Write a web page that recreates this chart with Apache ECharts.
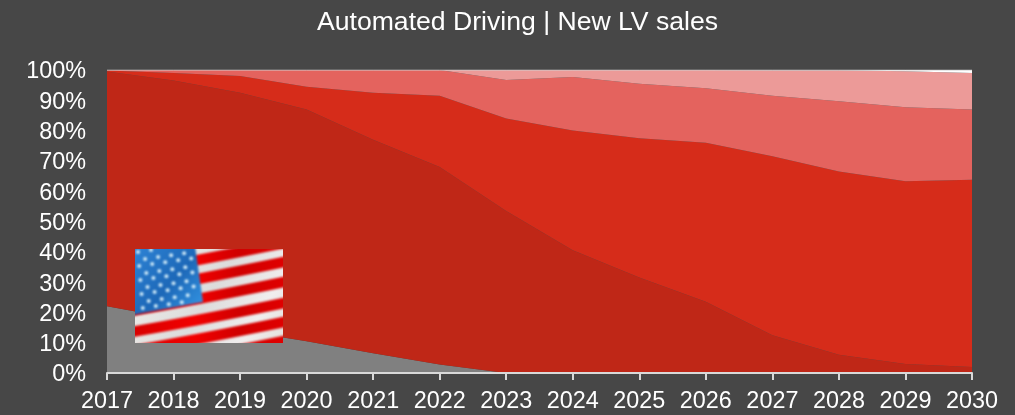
<!DOCTYPE html>
<html>
<head>
<meta charset="utf-8">
<script src="https://cdn.jsdelivr.net/npm/echarts@6/dist/echarts.min.js"></script>
<style>html,body{margin:0;padding:0;background:#474747}#c{width:1015px;height:415px}</style>
</head>
<body>
<div id="c"></div>
<script>
const years = ['2017','2018','2019','2020','2021','2022','2023','2024','2025','2026','2027','2028','2029','2030'];
const grayBand     = [22,18,14,10.5,6.5,2.8,0,0,0,0,0,0,0,0];
const darkRedBand  = [77.5,78.5,78.5,76.5,70.5,65.2,53.5,40.5,31.5,23.5,12.5,6,3,2];
const redBand      = [0.3,2.5,5.5,7.5,15.5,23.5,30.5,39.5,46,52.5,59,60.5,60.3,61.8];
const lightRedBand = [0.2,1,2,5.5,7.5,8.5,12.7,17.7,18,18,20,23.2,24.4,23.2];
const paleRedBand  = [0,0,0,0,0,0,3.3,2.3,4.5,6,8.4,10.2,11.9,12];
const whiteBand    = [0,0,0,0,0,0,0,0,0,0,0.1,0.1,0.4,1];

function flagCanvas() {
  const W = 148, H = 94;
  const cv = document.createElement('canvas');
  cv.width = W; cv.height = H;
  const g = cv.getContext('2d');
  const bg = g.createLinearGradient(0, 0, W, H);
  bg.addColorStop(0, '#f2efea'); bg.addColorStop(0.5, '#dcdcdc');
  bg.addColorStop(0.8, '#f0eeee'); bg.addColorStop(1, '#e4e0dc');
  g.fillStyle = bg; g.fillRect(0, 0, W, H);
  g.filter = 'blur(1.1px)';
  [-11, 9, 28, 48, 69, 88, 107].forEach((y0) => {
    const k = 0.19, x0 = 70;
    const rg = g.createLinearGradient(0, 0, W, 0);
    rg.addColorStop(0, '#d80000'); rg.addColorStop(0.4, '#f20000');
    rg.addColorStop(0.7, '#d00000'); rg.addColorStop(1, '#e00000');
    g.strokeStyle = rg; g.lineWidth = 10.5;
    g.beginPath(); g.moveTo(-5, y0 + 75 * k);
    g.bezierCurveTo(40, y0 + 30 * k + 1, 90, y0 - 10 * k - 1, W + 5, y0 - (W + 5 - x0) * k);
    g.stroke();
  });
  g.filter = 'blur(0.9px)';
  const blue = g.createLinearGradient(0, 0, 68, 60);
  blue.addColorStop(0, '#2d82d4'); blue.addColorStop(0.55, '#1d68b8'); blue.addColorStop(1, '#3496e4');
  g.fillStyle = blue;
  g.beginPath(); g.moveTo(-3, -3); g.lineTo(60, -3); g.lineTo(68, 53); g.lineTo(-3, 66); g.closePath(); g.fill();
  g.fillStyle = '#cfeaf8';
  for (let r = 0; r < 10; r++) {
    for (let c = 0; c < 7; c++) {
      const x = 3 + c * 13 + (r % 2) * 6.5 + r * 0.6;
      const y = 3 + r * 7 - c * 1.9;
      if (x > 58 + y * 0.14 || y > 62 - x * 0.18 || y < 0) continue;
      g.beginPath(); g.arc(x, y, 2, 0, 6.3); g.fill();
    }
  }
  return cv;
}

const band = (name, data, color, extra) => Object.assign({
  name, type: 'line', stack: 'share', data, symbol: 'none', smooth: false,
  lineStyle: { width: 0 }, areaStyle: { color: color, opacity: 1 }, itemStyle: { color },
  silent: true
}, extra || {});

const chart = echarts.init(document.getElementById('c'));
chart.setOption({
  animation: false,
  backgroundColor: '#474747',
  title: {
    text: 'Automated Driving | New LV sales', left: 312, top: 4,
    textStyle: { color: '#ffffff', fontFamily: 'Liberation Sans', fontSize: 26.6, fontWeight: 'normal' }
  },
  grid: { left: 107, right: 43, top: 70, bottom: 42 },
  xAxis: {
    type: 'category', data: years, boundaryGap: false,
    axisLine: { lineStyle: { color: '#d9d9d9', width: 2 } },
    axisTick: { show: true, length: 7, inside: false, alignWithLabel: true, lineStyle: { color: '#d9d9d9', width: 2 } },
    axisLabel: { color: '#ffffff', fontFamily: 'Liberation Sans', fontSize: 23.4, margin: 17, interval: 0, showMinLabel: true, showMaxLabel: true, hideOverlap: false },
    z: 5
  },
  yAxis: {
    type: 'value', min: 0, max: 100, interval: 10,
    axisLine: { show: false },
    axisTick: { show: false },
    splitLine: { show: false },
    axisLabel: { color: '#ffffff', fontFamily: 'Liberation Sans', fontSize: 23.4, margin: 21, verticalAlign: 'top', lineHeight: 4, formatter: '{value}%' }
  },
  series: [
    band('Gray', grayBand, '#808080'),
    band('Dark red', darkRedBand, '#BF2717'),
    band('Red', redBand, '#D62C1A'),
    band('Light red', lightRedBand, '#E4635E'),
    band('Pale red', paleRedBand, '#EC9A98'),
    band('White', whiteBand, '#ffffff', { lineStyle: { width: 1, color: '#d0d0d0' } })
  ],
  graphic: [{
    type: 'image', left: 135, top: 249, z: 20,
    style: { image: flagCanvas(), width: 148, height: 94 }
  }]
});
</script>
</body>
</html>
